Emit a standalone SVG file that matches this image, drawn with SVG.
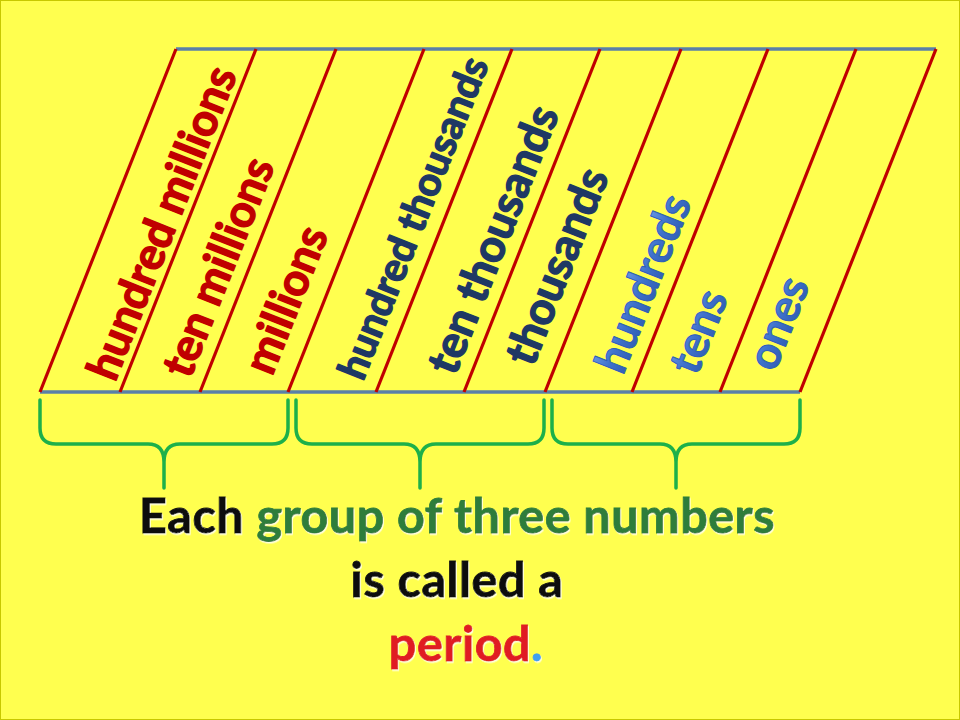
<svg xmlns="http://www.w3.org/2000/svg" width="960" height="720" viewBox="0 0 960 720">
<style>
.bg{fill:#FFFF4F;stroke:#C8C800;stroke-width:2}
.rail{stroke:#5A80A8;stroke-width:3.5;fill:none}
.col{stroke:#C00000;stroke-width:3.2;fill:none}
.lbl{font-family:Lato,"Open Sans","Liberation Sans",sans-serif;font-weight:700;font-size:45px;stroke-width:1.4;stroke-linejoin:round}
.mil{fill:#C00000;stroke:#C00000}
.tho{fill:#1F3864;stroke:#1F3864}
.one{fill:url(#blueg);stroke:#2F5FB8;stroke-width:1}
.brace{stroke:#1DB04A;stroke-width:3.5;fill:none;stroke-linecap:round;stroke-linejoin:round}
.cap{font-family:Lato,"Open Sans","Liberation Sans",sans-serif;font-weight:700;font-size:48.5px;text-anchor:middle;letter-spacing:0.5px;stroke-width:0.8;filter:url(#glow)}
</style>
<defs>
<path id="br" d="M0,400 L0,428 Q0,444 16,444 L108,444 Q124,444 124,462 L124,488 M124,462 Q124,444 140,444 L232,444 Q248,444 248,428 L248,400"/>
<linearGradient id="blueg" x1="0" y1="0" x2="0" y2="1">
<stop offset="0" stop-color="#7AA6EC"/>
<stop offset="0.5" stop-color="#3F72CC"/>
<stop offset="1" stop-color="#2A56A8"/>
</linearGradient>
<filter id="glow" x="-5%" y="-20%" width="110%" height="140%">
<feDropShadow dx="1" dy="1.5" stdDeviation="0.6" flood-color="#FFFFFF" flood-opacity="0.8"/>
</filter>
</defs>
<rect class="bg" x="0" y="0" width="960" height="720"/>
<g id="connectors">
<line class="rail" x1="176" y1="49" x2="936" y2="49"/>
<line class="rail" x1="40" y1="392" x2="800" y2="392"/>
<line class="col" x1="40" y1="392" x2="176" y2="49"/>
<line class="col" x1="120" y1="392" x2="256" y2="49"/>
<line class="col" x1="200" y1="392" x2="336" y2="49"/>
<line class="col" x1="288" y1="392" x2="424" y2="49"/>
<line class="col" x1="376" y1="392" x2="512" y2="49"/>
<line class="col" x1="464" y1="392" x2="600" y2="49"/>
<line class="col" x1="545" y1="392" x2="681" y2="49"/>
<line class="col" x1="632" y1="392" x2="768" y2="49"/>
<line class="col" x1="720" y1="392" x2="856" y2="49"/>
<line class="col" x1="800" y1="392" x2="936" y2="49"/>
</g>
<g id="hundred-millions"><text class="lbl mil" transform="translate(115,383) rotate(-68.37)">hundred millions</text></g>
<g id="ten-millions"><text class="lbl mil" transform="translate(190,380) rotate(-68.37)">ten millions</text></g>
<g id="millions"><text class="lbl mil" transform="translate(272,377) rotate(-68.37)">millions</text></g>
<g id="hundred-thousands"><text class="lbl tho" style="font-size:40px" transform="translate(363,382) rotate(-68.37)">hundred thousands</text></g>
<g id="ten-thousands"><text class="lbl tho" transform="translate(455,377) rotate(-68.37)">ten thousands</text></g>
<g id="thousands"><text class="lbl tho" transform="translate(533,368) rotate(-68.37)">thousands</text></g>
<g id="hundreds"><text class="lbl one" transform="translate(623,376) rotate(-68.37)">hundreds</text></g>
<g id="tens"><text class="lbl one" transform="translate(697,377) rotate(-68.37)">tens</text></g>
<g id="ones"><text class="lbl one" transform="translate(775,373) rotate(-68.37)">ones</text></g>
<g id="braces">
<use href="#br" class="brace" x="40"/>
<use href="#br" class="brace" x="296"/>
<use href="#br" class="brace" x="552"/>
</g>
<g id="caption">
<text class="cap" x="457" y="533"><tspan fill="#111111" stroke="#111111">Each </tspan><tspan fill="#2E7D3A" stroke="#2E7D3A">group of three numbers</tspan></text>
<text class="cap" x="457" y="597" fill="#111111" stroke="#111111">is called a</text>
<text class="cap" x="466" y="661"><tspan fill="#E01E24" stroke="#E01E24">period</tspan><tspan fill="#3FA0F0" stroke="#3FA0F0">.</tspan></text>
</g>
</svg>
